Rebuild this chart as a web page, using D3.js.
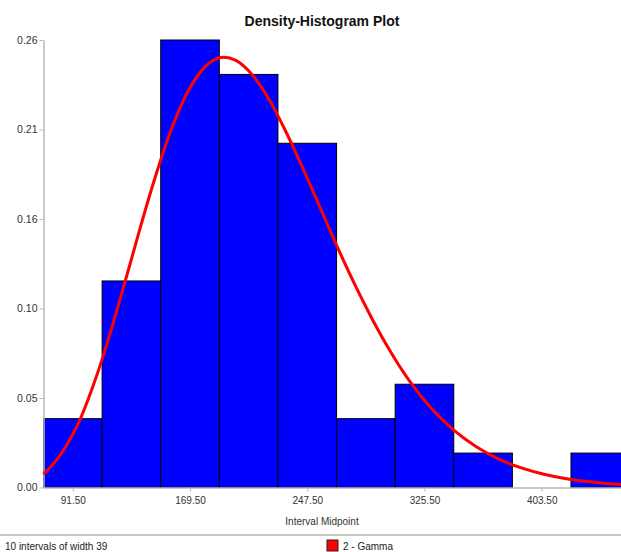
<!DOCTYPE html>
<html>
<head>
<meta charset="utf-8">
<script src="https://cdn.jsdelivr.net/npm/d3@7/dist/d3.min.js"></script>
<style>
  html, body { margin: 0; padding: 0; background: #fff; }
  svg { display: block; font-family: "Liberation Sans", Arial, sans-serif; }
</style>
</head>
<body>
<svg id="chart" width="621" height="552"></svg>
<script>
// ---- data ----
const intervalWidth = 39;
const intervalMid = [91.5, 130.5, 169.5, 208.5, 247.5, 286.5, 325.5, 364.5, 403.5, 442.5];
const density = [0.04, 0.12, 0.26, 0.24, 0.20, 0.04, 0.06, 0.02, 0.00, 0.02];
const xTickValues = [91.5, 169.5, 247.5, 325.5, 403.5];
const yTickValues = [0, 0.052, 0.104, 0.156, 0.208, 0.26];
// fitted Gamma curve
const gammaX = [72, 80, 88, 96, 104, 112, 120, 128, 136, 144, 152, 160, 168, 176, 184, 192, 200, 208, 216, 224, 232, 240, 250, 260, 270, 280, 290, 300, 315, 330, 345, 360, 375, 390, 405, 420, 440, 462];
const gammaY = [0.0078, 0.0152, 0.0254, 0.0388, 0.0566, 0.0772, 0.1004, 0.1249, 0.1498, 0.1737, 0.1957, 0.2146, 0.2299, 0.2410, 0.2477, 0.2500, 0.2482, 0.2426, 0.2339, 0.2226, 0.2090, 0.1943, 0.1748, 0.1547, 0.1350, 0.1164, 0.0991, 0.0832, 0.0625, 0.0460, 0.0333, 0.0237, 0.0165, 0.0114, 0.0077, 0.0051, 0.0029, 0.0015];
const titleText = "Density-Histogram Plot";
const xTitle = "Interval Midpoint";
const footText = "10 intervals of width 39";
const legendText = "2 - Gamma";

// ---- layout ----
const svg = d3.select("#chart");
const plotLeft = 43.5, plotBottom = 487.5, plotTop = 40;
const x = d3.scaleLinear().domain([72, 462]).range([plotLeft, 629.6]);
const y = d3.scaleLinear().domain([0, 0.26]).range([plotBottom, plotTop]);
const axisColor = "#bdb9ad";
const textColor = "#333";

// title
svg.append("text")
  .attr("x", 322).attr("y", 26)
  .attr("text-anchor", "middle")
  .attr("font-size", 14).attr("font-weight", "bold")
  .attr("fill", "#111")
  .text(titleText);

// bars
svg.append("g").selectAll("rect")
  .data(intervalMid.map((m, i) => ({ m, v: density[i] })).filter(d => d.v > 0))
  .join("rect")
  .attr("x", d => x(d.m - intervalWidth / 2))
  .attr("y", d => y(d.v))
  .attr("width", d => x(d.m + intervalWidth / 2) - x(d.m - intervalWidth / 2))
  .attr("height", d => y(0) - y(d.v))
  .attr("fill", "#0000ff")
  .attr("stroke", "#000")
  .attr("stroke-width", 1);

// y axis
const yAxis = d3.axisLeft(y).tickValues(yTickValues).tickSize(4).tickSizeOuter(0).tickFormat(d3.format(".2f"));
const gy = svg.append("g").attr("transform", `translate(${plotLeft},0)`).call(yAxis);
gy.select(".domain").attr("stroke", axisColor).attr("stroke-width", 1.5);
gy.selectAll(".tick line").attr("stroke", axisColor);
gy.selectAll(".tick text").attr("font-size", 10.5).attr("fill", textColor)
  .attr("font-family", "Liberation Sans, Arial, sans-serif").attr("x", -6);

// x axis
const xAxis = d3.axisBottom(x).tickValues(xTickValues).tickSize(4).tickSizeOuter(0).tickFormat(d3.format(".2f"));
const gx = svg.append("g").attr("transform", `translate(0,${plotBottom})`).call(xAxis);
gx.select(".domain").attr("stroke", axisColor).attr("stroke-width", 1.5);
gx.selectAll(".tick line").attr("stroke", axisColor);
gx.selectAll(".tick text").attr("font-size", 10).attr("fill", textColor)
  .attr("font-family", "Liberation Sans, Arial, sans-serif").attr("y", 9);

svg.append("text")
  .attr("x", 322).attr("y", 525)
  .attr("text-anchor", "middle")
  .attr("font-size", 10).attr("fill", textColor)
  .text(xTitle);

// gamma curve
const line = d3.line()
  .x((d, i) => x(gammaX[i]))
  .y(d => y(d))
  .curve(d3.curveMonotoneX);
svg.append("path")
  .datum(gammaY)
  .attr("d", line)
  .attr("fill", "none")
  .attr("stroke", "#ff0000")
  .attr("stroke-width", 3)
  .attr("stroke-linejoin", "round");

// separator
svg.append("line").attr("x1", 0).attr("x2", 621).attr("y1", 535).attr("y2", 535)
  .attr("stroke", "#c8c6c0").attr("stroke-width", 2);

// footer
svg.append("text")
  .attr("x", 5).attr("y", 550)
  .attr("font-size", 10).attr("fill", "#222")
  .text(footText);

svg.append("rect")
  .attr("x", 327).attr("y", 540).attr("width", 11).attr("height", 11)
  .attr("fill", "#ff0000").attr("stroke", "#222").attr("stroke-width", 1);
svg.append("text")
  .attr("x", 343).attr("y", 550)
  .attr("font-size", 10).attr("fill", "#222")
  .text(legendText);
</script>
</body>
</html>
